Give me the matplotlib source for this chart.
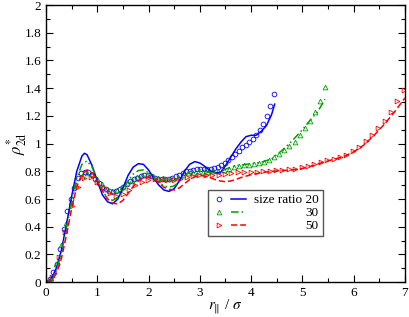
import numpy as np
import matplotlib
matplotlib.use("Agg")
import matplotlib.pyplot as plt
from matplotlib.legend_handler import HandlerTuple
from matplotlib.ticker import MultipleLocator
from matplotlib.transforms import Affine2D

plt.rcParams['font.family'] = ['Liberation Serif', 'DejaVu Serif']
plt.rcParams['mathtext.fontset'] = 'stix'

# simulation points (markers)
x_sim20 = np.linspace(0, 4.44, 66)
y_sim20 = [0.00, 0.02, 0.07, 0.13, 0.24, 0.38, 0.51, 0.60, 0.68, 0.75,
           0.785, 0.795, 0.795, 0.775, 0.745, 0.715, 0.69, 0.67, 0.655, 0.65,
           0.655, 0.67, 0.69, 0.71, 0.73, 0.745, 0.755, 0.765, 0.77, 0.77,
           0.765, 0.755, 0.748, 0.745, 0.745, 0.748, 0.755, 0.765, 0.775, 0.79,
           0.80, 0.805, 0.81, 0.815, 0.818, 0.82, 0.818, 0.818, 0.822, 0.832,
           0.845, 0.862, 0.88, 0.90, 0.925, 0.95, 0.975, 0.99, 1.01, 1.03,
           1.06, 1.10, 1.14, 1.20, 1.27, 1.355]

x_sim30 = np.linspace(0, 5.44, 56)
y_sim30 = [0.0, 0.03, 0.13, 0.27, 0.43, 0.58, 0.70, 0.765, 0.79, 0.78,
           0.745, 0.705, 0.675, 0.66, 0.665, 0.685, 0.715, 0.74, 0.76, 0.77,
           0.77, 0.765, 0.755, 0.75, 0.748, 0.752, 0.762, 0.775, 0.785, 0.79,
           0.795, 0.795, 0.795, 0.80, 0.805, 0.812, 0.82, 0.832, 0.84, 0.842,
           0.845, 0.85, 0.857, 0.868, 0.88, 0.90, 0.928, 0.955, 0.985, 1.015,
           1.06, 1.11, 1.16, 1.225, 1.31, 1.41]

x_sim50 = np.linspace(0, 6.98, 57)
y_sim50 = [0.0, 0.04, 0.18, 0.36, 0.55, 0.69, 0.755, 0.76, 0.725, 0.68,
           0.64, 0.625, 0.635, 0.665, 0.70, 0.725, 0.74, 0.745, 0.74, 0.735,
           0.737, 0.745, 0.757, 0.767, 0.772, 0.772, 0.772, 0.775, 0.78, 0.787,
           0.792, 0.795, 0.797, 0.798, 0.80, 0.803, 0.806, 0.81, 0.815, 0.82,
           0.828, 0.84, 0.855, 0.868, 0.882, 0.89, 0.90, 0.92, 0.945, 0.975,
           1.02, 1.06, 1.11, 1.165, 1.23, 1.31, 1.39]

# theory curves
x_th20 = [0.0, 0.1, 0.2, 0.3, 0.4, 0.5, 0.6, 0.7, 0.75, 0.8, 0.9, 1.0, 1.1, 1.2, 1.3,
          1.4, 1.5, 1.6, 1.7, 1.8, 1.9, 2.0, 2.1, 2.2, 2.3, 2.4, 2.5, 2.6, 2.7, 2.8,
          2.9, 3.0, 3.1, 3.2, 3.3, 3.4, 3.5, 3.6, 3.7, 3.8, 3.9, 4.0, 4.1, 4.2, 4.3,
          4.4, 4.46]
y_th20 = [0.0, 0.02, 0.1, 0.23, 0.42, 0.62, 0.80, 0.91, 0.93, 0.92, 0.84, 0.73, 0.63,
          0.58, 0.565, 0.60, 0.68, 0.77, 0.83, 0.855, 0.85, 0.81, 0.75, 0.70, 0.665,
          0.655, 0.675, 0.73, 0.80, 0.85, 0.87, 0.86, 0.835, 0.805, 0.79, 0.79, 0.84,
          0.90, 0.96, 1.01, 1.05, 1.06, 1.06, 1.09, 1.13, 1.21, 1.285]

x_th30 = [0.0, 0.1, 0.2, 0.3, 0.4, 0.5, 0.6, 0.7, 0.8, 0.9, 1.0, 1.1, 1.2, 1.3, 1.4,
          1.5, 1.6, 1.7, 1.8, 1.9, 2.0, 2.1, 2.2, 2.3, 2.4, 2.5, 2.6, 2.7, 2.8, 2.9,
          3.0, 3.1, 3.2, 3.3, 3.4, 3.5, 3.6, 3.7, 3.8, 3.9, 4.0, 4.2, 4.4, 4.6, 4.8,
          5.0, 5.2, 5.3, 5.44]
y_th30 = [0.0, 0.015, 0.08, 0.21, 0.39, 0.58, 0.75, 0.85, 0.875, 0.83, 0.74, 0.66,
          0.605, 0.59, 0.61, 0.665, 0.73, 0.78, 0.805, 0.81, 0.79, 0.755, 0.72, 0.695,
          0.685, 0.695, 0.725, 0.765, 0.795, 0.81, 0.81, 0.80, 0.79, 0.79, 0.80, 0.815,
          0.83, 0.84, 0.845, 0.85, 0.855, 0.865, 0.89, 0.95, 1.02, 1.10, 1.19, 1.23, 1.32]

x_th50 = [0.0, 0.1, 0.2, 0.3, 0.4, 0.5, 0.6, 0.7, 0.8, 0.9, 1.0, 1.1, 1.2, 1.3, 1.4,
          1.5, 1.6, 1.7, 1.8, 1.9, 2.0, 2.1, 2.2, 2.3, 2.4, 2.5, 2.6, 2.7, 2.8, 2.9,
          3.0, 3.1, 3.2, 3.3, 3.4, 3.5, 3.6, 3.7, 3.8, 3.9, 4.0, 4.2, 4.4, 4.6, 4.8,
          5.0, 5.2, 5.4, 5.6, 5.8, 6.0, 6.2, 6.4, 6.6, 6.8, 7.0]
y_th50 = [0.0, 0.01, 0.06, 0.17, 0.34, 0.53, 0.69, 0.78, 0.81, 0.79, 0.73, 0.66, 0.60,
          0.57, 0.565, 0.59, 0.64, 0.69, 0.73, 0.755, 0.76, 0.745, 0.715, 0.685, 0.67,
          0.665, 0.68, 0.71, 0.74, 0.76, 0.77, 0.765, 0.755, 0.74, 0.73, 0.725, 0.73,
          0.74, 0.755, 0.765, 0.775, 0.79, 0.80, 0.805, 0.81, 0.82, 0.84, 0.865, 0.885,
          0.905, 0.94, 0.99, 1.06, 1.14, 1.23, 1.33]

labels = ['size ratio 20', '30', '50']

blue = '#0000ff'
green = '#00a000'
red = '#ff0000'

fig = plt.figure(figsize=(4.09, 3.17), dpi=100)
ax = fig.add_axes([0.1125, 0.110, 0.8775, 0.874])

mk = dict(linestyle='none', markerfacecolor='none', markersize=3.4, markeredgewidth=0.6)
p20, = ax.plot(x_sim20, y_sim20, marker='o', color=blue, **mk)
p30, = ax.plot(x_sim30, y_sim30, marker='^', color=green, **mk)
p50, = ax.plot(x_sim50, y_sim50, marker='>', color=red, **mk)

l20, = ax.plot(x_th20, y_th20, color=blue, lw=1.1, linestyle='-')
l30, = ax.plot(x_th30, y_th30, color=green, lw=1.1, linestyle=(0, (5, 2, 1, 2, 1, 2)))
l50, = ax.plot(x_th50, y_th50, color=red, lw=1.1, linestyle=(0, (4, 2)))

ax.set_xlim(0, 7)
ax.set_ylim(0, 2)
ax.xaxis.set_major_locator(MultipleLocator(1))
ax.xaxis.set_minor_locator(MultipleLocator(0.5))
ax.yaxis.set_minor_locator(MultipleLocator(0.1))
ax.set_yticks(np.arange(0, 2.01, 0.2))
ax.set_yticklabels(['0', '0.2', '0.4', '0.6', '0.8', '1', '1.2', '1.4', '1.6', '1.8', '2'])
ax.tick_params(which='both', direction='in', top=True, right=True, labelsize=9.5, width=0.8)
ax.tick_params(which='major', length=5)
ax.tick_params(which='minor', length=3)
for s in ax.spines.values():
    s.set_linewidth(1.0)

ax.set_xlabel(r'$r_{\|}$ / $\sigma$', fontsize=11, labelpad=-1)
ax.set_ylabel(r'$\rho^{*}_{\mathrm{2d}}$', fontsize=12, labelpad=-3)

leg = ax.legend([(p20, l20), (p30, l30), (p50, l50)], labels,
                handler_map={tuple: HandlerTuple(ndivide=None, pad=0.3)},
                loc='upper left', bbox_to_anchor=(0.451, 0.332),
                fontsize=9.5, handlelength=2.6, handletextpad=0.6,
                labelspacing=0.05, borderpad=0.3, borderaxespad=0,
                frameon=True, fancybox=False, framealpha=1)
leg.get_frame().set_edgecolor('#555555')
leg.get_frame().set_linewidth(1.0)

# right-align the short labels under "size ratio 20"
fig.canvas.draw()
renderer = fig.canvas.get_renderer()
texts = leg.get_texts()
right0 = texts[0].get_window_extent(renderer).x1
for t in texts[1:]:
    dx = right0 - t.get_window_extent(renderer).x1
    t.set_transform(t.get_transform() + Affine2D().translate(dx, 0))

fig.savefig('out.png', dpi=100)
